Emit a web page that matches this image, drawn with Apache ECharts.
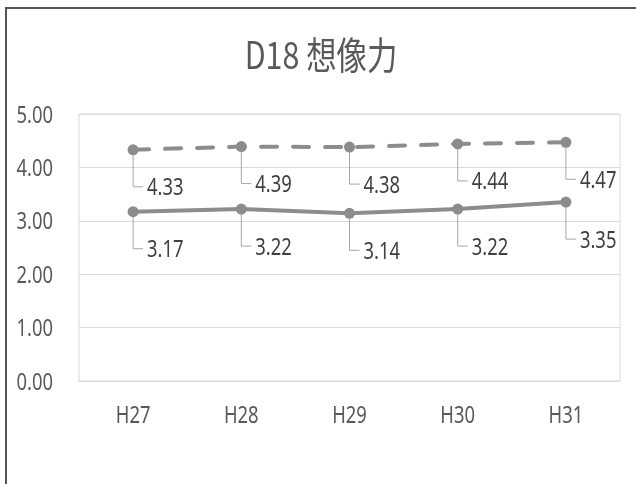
<!DOCTYPE html>
<html><head><meta charset="utf-8">
<script src="https://cdn.jsdelivr.net/npm/echarts@6/dist/echarts.min.js"></script>
<style>html,body{margin:0;padding:0;background:#fff}#c{width:636px;height:484px}</style>
</head><body><div id="c"></div>
<script>
const titleText = 'D18 想像力';
const categories = ['H27', 'H28', 'H29', 'H30', 'H31'];
const seriesDashed = [4.33, 4.39, 4.38, 4.44, 4.47];
const seriesSolid = [3.17, 3.22, 3.14, 3.22, 3.35];
const yTickValues = [0, 1, 2, 3, 4, 5];
const yTickLabels = ['0.00', '1.00', '2.00', '3.00', '4.00', '5.00'];

const FONT = '"Noto Sans", sans-serif';
const LINE_COLOR = '#8c8c8c';
const SQUEEZE = 0.8;

function labelSeries(name, data) {
  return {
    name: name + '-labels',
    type: 'custom',
    data: data.map((v, i) => [i, v]),
    encode: { x: 0, y: 1 },
    z: 1,
    silent: true,
    renderItem(params, api) {
      const p = api.coord([api.value(0), api.value(1)]);
      const dy = 37;
      return {
        type: 'group',
        children: [
          { type: 'polyline', shape: { points: [[p[0], p[1]], [p[0], p[1] + dy], [p[0] + 10, p[1] + dy]] },
            style: { stroke: '#a6a6a6', lineWidth: 1, fill: null } },
          { type: 'text', x: p[0] + 14, y: p[1] + dy + 2, scaleX: SQUEEZE,
            style: { text: api.value(1).toFixed(2), fill: '#404040', font: '23px ' + FONT, verticalAlign: 'middle', align: 'left' } }
        ]
      };
    }
  };
}

const yLabelSeries = {
  name: 'y-ticks',
  type: 'custom',
  data: yTickValues.map((v, i) => [0, v, i]),
  encode: { x: 0, y: 1 },
  silent: true,
  renderItem(params, api) {
    const p = api.coord([0, api.value(1)]);
    return { type: 'text', x: params.coordSys.x - 26, y: p[1] + 2, scaleX: SQUEEZE,
      style: { text: yTickLabels[api.value(2)], fill: '#595959', font: '23px ' + FONT, align: 'right', verticalAlign: 'middle' } };
  }
};

const xLabelSeries = {
  name: 'x-ticks',
  type: 'custom',
  data: categories.map((c, i) => [i, 0]),
  encode: { x: 0, y: 1 },
  silent: true,
  renderItem(params, api) {
    const p = api.coord([api.value(0), 0]);
    return { type: 'text', x: p[0], y: p[1] + 35, scaleX: SQUEEZE,
      style: { text: categories[api.value(0)], fill: '#595959', font: '23px ' + FONT, align: 'center', verticalAlign: 'middle' } };
  }
};

const chart = echarts.init(document.getElementById('c'), null, { renderer: 'canvas' });
chart.setOption({
  backgroundColor: '#ffffff',
  animation: false,
  grid: { left: 79, right: 16, top: 114, bottom: 103, show: true, borderColor: '#d9d9d9', borderWidth: 1 },
  xAxis: {
    type: 'category', data: categories, boundaryGap: true,
    axisLine: { show: true, lineStyle: { color: '#d9d9d9' } },
    axisTick: { show: false },
    axisLabel: { show: false }
  },
  yAxis: {
    type: 'value', min: 0, max: 5, interval: 1,
    axisLine: { show: false }, axisTick: { show: false },
    splitLine: { lineStyle: { color: '#d9d9d9', width: 1 } },
    axisLabel: { show: false }
  },
  graphic: [
    { type: 'line', shape: { x1: 5, y1: 8, x2: 636, y2: 8 }, style: { stroke: '#555555', lineWidth: 2 } },
    { type: 'line', shape: { x1: 6, y1: 8, x2: 6, y2: 484 }, style: { stroke: '#555555', lineWidth: 2 } },
    { type: 'text', x: 321, y: 55, scaleX: SQUEEZE,
      style: { text: titleText, fill: '#595959', font: '38px "Noto Sans CJK JP", sans-serif', align: 'center', verticalAlign: 'middle' } }
  ],
  series: [
    { name: 'dashed', type: 'line', data: seriesDashed, z: 3,
      symbol: 'circle', symbolSize: 11,
      itemStyle: { color: LINE_COLOR },
      lineStyle: { color: LINE_COLOR, width: 4, type: [16, 16], cap: 'round' } },
    { name: 'solid', type: 'line', data: seriesSolid, z: 3,
      symbol: 'circle', symbolSize: 11,
      itemStyle: { color: LINE_COLOR },
      lineStyle: { color: LINE_COLOR, width: 4 } },
    labelSeries('dashed', seriesDashed),
    labelSeries('solid', seriesSolid),
    yLabelSeries,
    xLabelSeries
  ]
});
</script>
</body></html>
